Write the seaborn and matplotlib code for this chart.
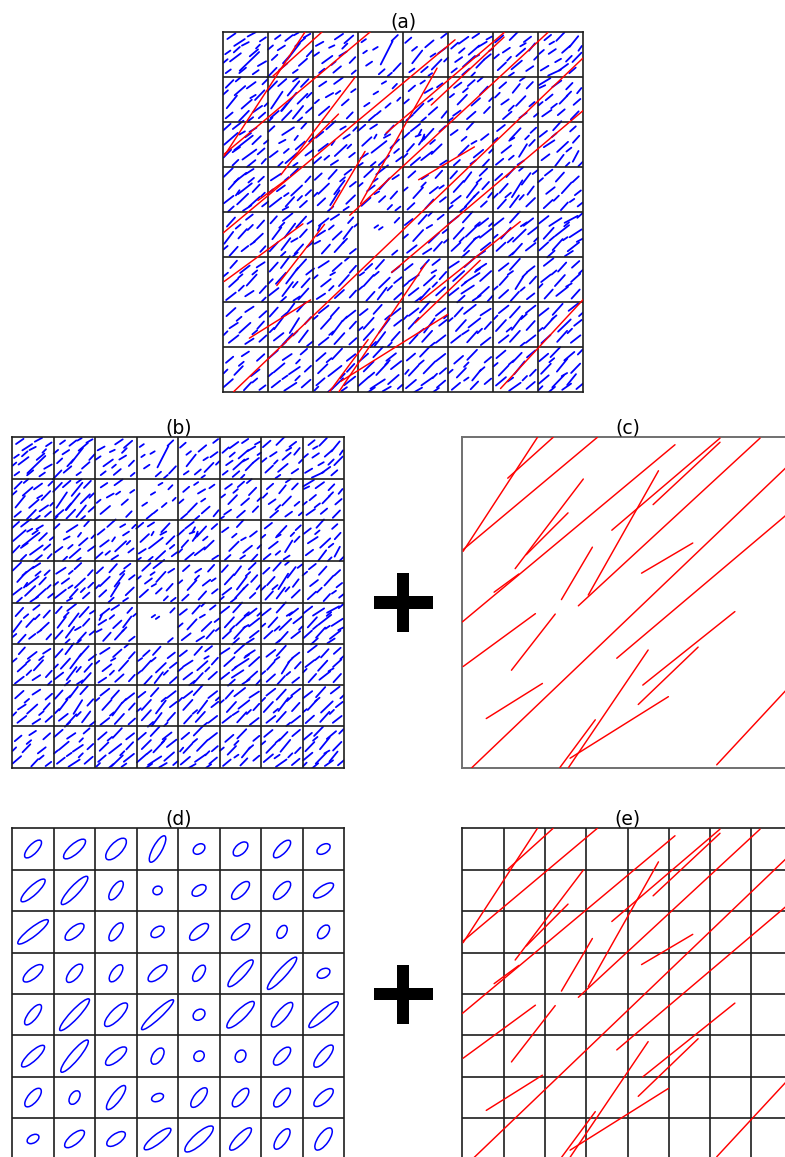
import matplotlib
matplotlib.use("Agg")
import matplotlib.pyplot as plt
from matplotlib.patches import Ellipse, Rectangle
import numpy as np
import pandas as pd
import seaborn as sns

sns.set_theme(style="white")
plt.rcParams["font.family"] = ["DejaVu Sans"]

N_CELLS = 8
TITLES = ["(a)", "(b)", "(c)", "(d)", "(e)"]

# ---- long (red) fractures, domain units 0..8, y up ----
red_x1 = [0.02, 1.10, 0.02, 1.28, 1.55, 0.00, 0.77, 3.62, 4.62, 3.05, 2.81, 4.34, 0.23,
          3.74, 2.40, 0.02, 1.19, 0.58, 2.36, 2.57, 2.61, 4.37, 4.26, 6.16]
red_y1 = [5.24, 7.01, 5.28, 4.82, 5.16, 3.53, 4.25, 5.75, 6.37, 4.18, 3.92, 4.71, 0.00,
          2.65, 4.07, 2.45, 2.36, 1.19, 0.00, 0.00, 0.23, 2.00, 1.53, 0.07]
red_x2 = [1.82, 2.20, 3.27, 2.93, 2.56, 5.15, 1.37, 6.24, 6.24, 4.75, 7.21, 5.58, 8.00,
          8.00, 3.15, 1.77, 2.25, 1.94, 3.22, 4.50, 4.99, 6.60, 5.71, 8.00]
red_y2 = [8.00, 8.00, 8.00, 6.99, 6.17, 7.82, 4.69, 7.98, 7.88, 7.19, 7.98, 5.44, 7.42,
          6.25, 5.34, 3.73, 3.72, 2.04, 1.16, 2.85, 1.72, 3.78, 2.92, 2.05]

# ---- short (blue) fractures per grid row (row 0 = top) ----
# (column, x in cell, y from cell top, length in cells, angle deg)
blue_row0 = [
    (0,.18,.10,.22,35),(0,.36,.24,.28,33),(0,.63,.06,.20,28),(0,.10,.46,.14,35),(0,.27,.57,.30,37),
    (0,.58,.66,.60,44),(0,.68,.47,.24,40),(0,.88,.17,.16,34),(0,.86,.71,.21,30),(0,.11,.88,.14,36),
    (0,.49,.27,.17,27),(0,.43,.86,.19,39),(0,.77,.33,.12,45),
    (0,.30,.40,.18,42),(0,.05,.65,.12,40),(0,.72,.90,.16,35),
    (1,.08,.91,.30,46),(1,.33,.78,.24,40),(1,.56,.44,.46,52),(1,.71,.23,.29,40),(1,.29,.36,.19,33),
    (1,.86,.09,.17,30),(1,.21,.12,.15,36),(1,.77,.68,.24,41),(1,.92,.48,.19,47),(1,.46,.14,.21,38),
    (1,.14,.57,.17,43),(1,.60,.88,.13,35),
    (1,.40,.62,.22,48),(1,.05,.35,.14,40),(1,.62,.05,.12,30),
    (2,.14,.27,.19,29),(2,.57,.11,.22,34),(2,.79,.17,.26,41),(2,.31,.62,.28,36),(2,.66,.49,.19,31),
    (2,.87,.63,.18,46),(2,.19,.87,.15,38),(2,.53,.84,.22,40),(2,.41,.33,.13,25),(2,.90,.90,.12,40),
    (2,.07,.50,.14,35),(2,.45,.70,.12,40),(2,.70,.32,.16,45),
    (3,.38,.37,.12,31),(3,.63,.47,.58,63),(3,.81,.14,.19,44),(3,.24,.71,.16,34),(3,.86,.79,.24,47),
    (3,.52,.89,.17,41),(3,.12,.20,.12,35),
    (3,.15,.45,.10,35),(3,.70,.95,.12,40),
    (4,.11,.19,.18,41),(4,.31,.56,.36,52),(4,.58,.27,.24,40),(4,.86,.42,.21,36),(4,.47,.84,.19,40),
    (4,.74,.73,.31,46),(4,.19,.86,.14,35),(4,.90,.09,.15,38),(4,.66,.52,.13,33),
    (4,.25,.38,.14,38),(4,.95,.62,.12,45),(4,.60,.95,.10,35),
    (5,.14,.31,.20,41),(5,.34,.19,.26,36),(5,.57,.41,.31,41),(5,.76,.28,.22,31),(5,.23,.62,.19,35),
    (5,.46,.66,.36,42),(5,.71,.71,.25,46),(5,.87,.56,.19,39),(5,.13,.86,.15,38),(5,.61,.09,.18,34),
    (5,.91,.14,.14,29),(5,.39,.89,.21,41),(5,.62,.55,.15,28),
    (5,.30,.42,.16,40),(5,.95,.40,.10,35),(5,.55,.95,.12,45),
    (6,.13,.16,.24,41),(6,.47,.08,.30,45),(6,.76,.17,.20,37),(6,.29,.41,.19,34),(6,.61,.46,.26,41),
    (6,.86,.34,.21,51),(6,.19,.77,.25,43),(6,.52,.74,.30,40),(6,.81,.82,.19,34),(6,.66,.29,.14,30),
    (6,.35,.60,.12,45),
    (6,.07,.55,.14,40),(6,.40,.95,.14,35),(6,.95,.58,.12,45),
    (7,.21,.13,.19,39),(7,.49,.11,.26,46),(7,.79,.22,.31,51),(7,.31,.44,.19,34),(7,.62,.39,.24,41),
    (7,.86,.57,.29,46),(7,.14,.81,.20,31),(7,.36,.91,.31,25),(7,.56,.79,.25,36),(7,.76,.86,.19,41),
    (7,.44,.64,.15,30),(7,.93,.37,.13,55),
    (7,.07,.45,.14,40),(7,.68,.60,.18,45),(7,.30,.25,.12,30),
]
blue_row1 = [
    (0,.14,.16,.24,45),(0,.37,.31,.31,41),(0,.62,.19,.24,36),(0,.81,.41,.30,46),(0,.19,.56,.36,51),
    (0,.52,.61,.30,41),(0,.76,.72,.25,35),(0,.13,.86,.20,40),(0,.46,.87,.31,46),(0,.86,.86,.19,41),
    (0,.66,.44,.14,31),(0,.33,.06,.14,40),(0,.92,.12,.14,45),
    (0,.05,.35,.14,42),(0,.60,.95,.16,38),(0,.95,.62,.10,45),
    (1,.09,.21,.30,46),(1,.31,.13,.24,41),(1,.56,.26,.41,51),(1,.81,.14,.24,46),(1,.19,.52,.45,56),
    (1,.46,.56,.52,51),(1,.76,.49,.31,45),(1,.14,.84,.24,41),(1,.41,.86,.30,46),(1,.66,.79,.36,51),
    (1,.91,.74,.19,41),(1,.61,.06,.15,36),(1,.91,.41,.15,45),
    (1,.35,.68,.20,50),(1,.70,.95,.14,40),(1,.05,.95,.12,45),
    (2,.21,.16,.19,34),(2,.56,.09,.24,36),(2,.36,.41,.19,30),(2,.71,.57,.20,41),(2,.24,.76,.30,40),
    (2,.81,.86,.19,46),(2,.89,.31,.12,35),
    (2,.08,.55,.12,40),(2,.55,.35,.12,35),
    (3,.39,.36,.12,31),(3,.19,.62,.14,34),(3,.66,.64,.15,41),(3,.31,.91,.19,40),(3,.81,.21,.14,46),
    (3,.57,.13,.11,30),
    (3,.45,.80,.12,40),(3,.90,.50,.10,45),
    (4,.19,.26,.19,41),(4,.56,.31,.20,31),(4,.81,.19,.15,36),(4,.34,.71,.31,46),(4,.66,.76,.25,41),
    (4,.14,.91,.19,40),(4,.91,.84,.19,51),(4,.43,.12,.12,35),
    (4,.07,.55,.14,40),(4,.60,.52,.12,35),(4,.45,.95,.14,40),
    (5,.21,.19,.20,36),(5,.51,.14,.20,41),(5,.79,.31,.25,46),(5,.31,.51,.30,46),(5,.61,.56,.25,41),
    (5,.19,.81,.20,35),(5,.51,.86,.25,41),(5,.86,.74,.19,46),(5,.71,.06,.15,40),(5,.08,.42,.12,38),
    (5,.38,.30,.14,40),(5,.95,.50,.12,45),(5,.05,.95,.12,35),
    (6,.21,.19,.20,41),(6,.51,.26,.25,51),(6,.81,.19,.20,46),(6,.26,.56,.20,35),(6,.61,.54,.30,46),
    (6,.86,.61,.15,40),(6,.31,.86,.25,41),(6,.66,.86,.20,36),(6,.09,.41,.15,45),
    (6,.40,.70,.16,45),(6,.95,.85,.12,40),(6,.65,.05,.14,35),
    (7,.14,.11,.30,31),(7,.41,.16,.25,36),(7,.69,.21,.20,46),(7,.91,.31,.15,51),(7,.24,.46,.20,40),
    (7,.56,.51,.25,46),(7,.86,.56,.20,41),(7,.19,.81,.25,35),(7,.51,.79,.20,40),(7,.81,.86,.25,46),
    (7,.09,.22,.14,25),
    (7,.35,.65,.16,38),(7,.68,.38,.14,45),(7,.05,.60,.12,40),
]
blue_row2 = [
    (0,.08,.12,.22,42),(0,.33,.07,.30,38),(0,.66,.18,.18,31),(0,.17,.38,.40,41),(0,.45,.47,.52,38),
    (0,.29,.62,.20,35),(0,.74,.41,.26,44),(0,.09,.71,.24,46),(0,.58,.73,.38,36),(0,.84,.66,.20,41),
    (0,.27,.91,.18,44),(0,.62,.93,.24,39),(0,.90,.88,.14,48),(0,.42,.25,.14,30),
    (0,.55,.30,.16,35),(0,.95,.45,.12,40),
    (1,.07,.16,.18,43),(1,.44,.21,.31,33),(1,.79,.09,.17,48),(1,.31,.44,.16,28),(1,.71,.53,.27,41),
    (1,.12,.72,.22,37),(1,.51,.81,.34,41),(1,.91,.69,.21,36),(1,.27,.94,.14,44),(1,.62,.36,.12,52),
    (1,.40,.65,.14,40),(1,.95,.40,.12,45),(1,.60,.95,.12,35),
    (2,.14,.29,.21,39),(2,.39,.08,.27,42),(2,.74,.33,.17,33),(2,.22,.57,.26,37),(2,.61,.64,.36,43),
    (2,.09,.86,.22,41),(2,.47,.91,.19,33),(2,.86,.74,.16,38),(2,.93,.16,.12,45),(2,.44,.47,.12,55),
    (2,.66,.14,.14,30),
    (2,.30,.80,.14,40),(2,.80,.55,.12,45),
    (3,.07,.14,.22,40),(3,.34,.11,.18,33),(3,.69,.19,.29,47),(3,.19,.44,.28,43),(3,.46,.56,.42,38),
    (3,.81,.49,.27,45),(3,.13,.76,.20,33),(3,.57,.86,.31,43),(3,.91,.83,.17,37),(3,.64,.32,.16,28),
    (3,.33,.94,.14,40),(3,.38,.33,.10,60),
    (3,.85,.65,.14,40),(3,.05,.95,.12,35),
    (4,.06,.31,.21,42),(4,.27,.13,.26,38),(4,.56,.28,.33,48),(4,.87,.16,.18,42),(4,.16,.58,.23,48),
    (4,.41,.42,.22,55),(4,.74,.61,.31,44),(4,.27,.88,.27,40),(4,.52,.76,.31,38),(4,.89,.91,.17,33),
    (4,.37,.24,.14,62),(4,.33,.31,.12,20),(4,.44,.36,.16,70),
    (4,.65,.45,.14,40),(4,.05,.75,.12,45),
    (5,.13,.24,.19,36),(5,.49,.09,.23,47),(5,.81,.34,.21,38),(5,.34,.64,.32,45),(5,.67,.71,.27,39),
    (5,.19,.91,.18,42),(5,.83,.92,.22,47),(5,.57,.46,.13,30),
    (5,.35,.38,.14,40),(5,.95,.65,.12,45),(5,.55,.90,.14,35),
    (6,.17,.14,.22,38),(6,.49,.27,.34,47),(6,.89,.19,.17,43),(6,.29,.61,.27,38),(6,.66,.64,.33,58),
    (6,.86,.47,.18,47),(6,.14,.89,.21,39),(6,.61,.91,.17,33),(6,.41,.39,.13,30),
    (6,.40,.80,.14,40),(6,.75,.35,.12,45),(6,.05,.40,.12,40),
    (7,.11,.27,.21,38),(7,.42,.09,.27,48),(7,.77,.16,.17,42),(7,.24,.49,.28,33),(7,.54,.56,.33,43),
    (7,.84,.39,.21,48),(7,.16,.79,.22,37),(7,.47,.86,.31,53),(7,.83,.77,.27,62),(7,.68,.62,.14,38),
    (7,.94,.94,.14,45),
    (7,.35,.30,.14,40),(7,.65,.95,.12,45),
]
blue_row3 = [
    (0,.11,.13,.28,44),(0,.38,.24,.34,38),(0,.58,.11,.22,33),(0,.84,.28,.17,43),(0,.23,.38,.33,48),
    (0,.48,.49,.39,38),(0,.73,.48,.23,47),(0,.12,.73,.27,38),(0,.43,.72,.34,44),(0,.69,.78,.32,42),
    (0,.17,.94,.17,43),(0,.53,.92,.22,33),(0,.93,.83,.17,38),(0,.32,.58,.14,55),
    (0,.62,.30,.16,40),(0,.88,.62,.12,45),
    (1,.17,.23,.27,33),(1,.58,.12,.22,43),(1,.88,.28,.17,48),(1,.28,.48,.22,36),(1,.63,.53,.33,43),
    (1,.89,.58,.17,44),(1,.16,.79,.33,38),(1,.48,.78,.28,48),(1,.78,.83,.21,42),(1,.38,.93,.14,28),
    (1,.41,.27,.12,40),
    (1,.05,.55,.14,40),(1,.70,.70,.14,45),(1,.40,.62,.12,35),
    (2,.11,.22,.21,43),(2,.43,.17,.27,48),(2,.77,.12,.19,38),(2,.23,.49,.33,44),(2,.58,.46,.38,53),
    (2,.88,.39,.17,38),(2,.18,.78,.23,43),(2,.48,.69,.39,58),(2,.83,.73,.27,44),(2,.38,.94,.17,42),
    (2,.73,.93,.14,33),
    (2,.65,.28,.14,40),(2,.05,.62,.12,45),
    (3,.23,.14,.27,43),(3,.53,.07,.33,38),(3,.83,.23,.17,33),(3,.28,.48,.21,37),(3,.58,.38,.33,48),
    (3,.17,.78,.27,42),(3,.53,.72,.19,43),(3,.79,.63,.22,48),(3,.88,.93,.14,38),(3,.41,.58,.12,30),
    (3,.05,.40,.12,40),(3,.70,.90,.14,45),(3,.38,.30,.12,35),
    (4,.19,.17,.21,42),(4,.48,.23,.17,33),(4,.79,.17,.22,48),(4,.33,.58,.32,48),(4,.68,.52,.23,38),
    (4,.17,.88,.21,43),(4,.58,.83,.27,48),(4,.88,.73,.17,38),
    (4,.05,.50,.12,40),(4,.45,.40,.14,45),(4,.85,.45,.12,35),
    (5,.12,.18,.22,48),(5,.43,.23,.27,53),(5,.78,.12,.23,44),(5,.23,.44,.33,48),(5,.53,.53,.39,53),
    (5,.83,.42,.22,48),(5,.17,.73,.27,38),(5,.48,.77,.33,48),(5,.79,.83,.18,43),(5,.33,.94,.17,38),
    (5,.68,.31,.14,42),(5,.93,.63,.14,50),
    (5,.62,.62,.16,45),(5,.05,.90,.12,40),
    (6,.12,.23,.21,43),(6,.38,.13,.27,48),(6,.73,.27,.32,53),(6,.23,.48,.27,48),(6,.53,.49,.44,58),
    (6,.83,.53,.23,53),(6,.19,.83,.27,48),(6,.47,.77,.33,53),(6,.83,.79,.27,44),(6,.93,.12,.14,38),
    (6,.63,.68,.14,48),(6,.33,.63,.16,40),
    (6,.62,.05,.12,40),(6,.05,.65,.14,45),
    (7,.23,.13,.21,38),(7,.48,.23,.27,48),(7,.83,.28,.19,43),(7,.27,.53,.24,38),(7,.63,.47,.32,48),
    (7,.88,.58,.17,38),(7,.22,.83,.27,43),(7,.58,.88,.23,48),(7,.93,.84,.14,38),
    (7,.05,.30,.14,40),(7,.40,.70,.16,45),(7,.75,.75,.12,35),
]
blue_row4 = [
    (0,.17,.23,.27,48),(0,.58,.12,.19,38),(0,.83,.28,.23,48),(0,.12,.58,.33,53),(0,.43,.49,.28,48),
    (0,.78,.58,.27,43),(0,.23,.88,.27,48),(0,.48,.82,.19,38),(0,.88,.83,.17,48),(0,.33,.33,.14,40),
    (0,.60,.35,.16,45),(0,.05,.80,.12,40),(0,.65,.70,.12,35),
    (1,.12,.18,.21,48),(1,.43,.12,.27,38),(1,.73,.23,.33,48),(1,.19,.48,.33,53),(1,.48,.42,.39,53),
    (1,.78,.48,.23,48),(1,.12,.78,.27,48),(1,.39,.72,.33,53),(1,.68,.83,.28,48),(1,.93,.73,.17,38),
    (1,.33,.94,.14,43),(1,.93,.23,.14,33),(1,.58,.63,.16,30),
    (1,.30,.30,.16,45),(1,.60,.95,.14,40),
    (2,.23,.23,.27,38),(2,.48,.12,.22,33),(2,.83,.19,.17,48),(2,.17,.48,.22,33),(2,.53,.53,.27,43),
    (2,.77,.47,.33,53),(2,.28,.83,.27,48),(2,.58,.78,.32,48),(2,.88,.88,.17,38),(2,.09,.68,.14,28),
    (2,.13,.36,.14,65),
    (2,.40,.35,.14,40),(2,.70,.65,.14,45),(2,.95,.30,.10,40),
    (3,.40,.33,.10,35),(3,.50,.37,.10,35),(3,.86,.19,.15,46),(3,.81,.91,.15,40),
    (4,.12,.23,.22,38),(4,.43,.17,.27,48),(4,.83,.12,.17,38),(4,.33,.53,.33,48),(4,.68,.58,.32,44),
    (4,.19,.83,.27,38),(4,.53,.88,.22,33),(4,.77,.77,.27,48),(4,.93,.43,.14,38),(4,.58,.33,.14,30),
    (4,.05,.55,.14,40),(4,.60,.05,.12,45),(4,.95,.65,.12,40),
    (5,.12,.18,.27,38),(5,.43,.12,.32,48),(5,.78,.23,.27,38),(5,.23,.48,.33,48),(5,.53,.42,.39,44),
    (5,.83,.48,.32,38),(5,.17,.78,.27,43),(5,.48,.73,.39,48),(5,.83,.77,.27,38),(5,.38,.94,.22,42),
    (5,.73,.93,.21,33),(5,.95,.28,.12,42),(5,.63,.58,.14,30),
    (5,.30,.62,.14,45),(5,.65,.28,.14,40),
    (6,.12,.23,.27,38),(6,.48,.12,.33,48),(6,.78,.23,.27,38),(6,.28,.48,.32,48),(6,.58,.53,.39,44),
    (6,.88,.42,.27,38),(6,.17,.78,.27,43),(6,.53,.83,.32,48),(6,.83,.78,.27,38),(6,.68,.28,.16,33),
    (6,.38,.63,.16,42),
    (6,.05,.55,.12,40),(6,.95,.62,.12,45),(6,.40,.95,.14,40),
    (7,.12,.18,.27,38),(7,.38,.23,.32,33),(7,.73,.17,.33,28),(7,.93,.08,.17,42),(7,.23,.48,.33,48),
    (7,.53,.42,.39,38),(7,.83,.48,.32,33),(7,.12,.77,.27,42),(7,.43,.73,.33,48),(7,.78,.78,.32,38),
    (7,.28,.94,.22,42),(7,.68,.93,.21,33),(7,.93,.63,.17,28),(7,.63,.28,.14,40),
    (7,.30,.60,.14,40),(7,.60,.60,.12,35),
]
blue_row5 = [
    (0,.23,.17,.22,48),(0,.48,.28,.27,38),(0,.83,.18,.21,33),(0,.23,.58,.27,42),(0,.63,.52,.33,48),
    (0,.17,.88,.27,38),(0,.58,.82,.22,33),(0,.88,.73,.21,48),(0,.38,.43,.12,40),
    (0,.05,.40,.14,40),(0,.40,.70,.16,45),(0,.70,.35,.14,40),(0,.90,.95,.12,45),
    (1,.12,.23,.27,48),(1,.38,.12,.33,53),(1,.73,.18,.33,48),(1,.93,.33,.22,38),(1,.28,.48,.33,48),
    (1,.53,.42,.44,53),(1,.83,.58,.27,48),(1,.12,.78,.27,38),(1,.43,.72,.39,53),(1,.78,.83,.33,48),
    (1,.33,.95,.17,42),(1,.63,.93,.17,33),
    (1,.05,.55,.14,45),(1,.60,.62,.16,50),
    (2,.23,.17,.27,33),(2,.53,.23,.27,42),(2,.88,.28,.21,48),(2,.28,.58,.27,38),(2,.68,.53,.33,48),
    (2,.17,.88,.22,33),(2,.58,.83,.27,42),(2,.88,.83,.21,48),(2,.43,.38,.12,30),
    (2,.05,.45,.12,40),(2,.40,.70,.14,45),(2,.75,.05,.12,40),
    (3,.23,.23,.21,42),(3,.48,.17,.27,48),(3,.83,.28,.22,38),(3,.23,.53,.33,48),(3,.58,.58,.33,44),
    (3,.88,.52,.21,38),(3,.27,.88,.27,48),(3,.53,.82,.33,53),(3,.88,.88,.22,42),(3,.08,.38,.12,35),
    (3,.40,.38,.14,40),(3,.70,.70,.14,45),(3,.05,.70,.12,40),
    (4,.12,.23,.22,38),(4,.48,.17,.27,48),(4,.73,.12,.21,38),(4,.23,.48,.27,33),(4,.58,.53,.33,42),
    (4,.88,.42,.22,48),(4,.23,.78,.27,38),(4,.48,.83,.33,48),(4,.83,.77,.27,42),(4,.33,.95,.17,38),
    (4,.68,.33,.12,30),
    (4,.05,.62,.14,40),(4,.70,.62,.14,45),
    (5,.12,.18,.27,33),(5,.48,.12,.33,42),(5,.73,.23,.27,33),(5,.23,.43,.33,42),(5,.53,.47,.39,33),
    (5,.83,.43,.33,42),(5,.12,.78,.27,38),(5,.43,.73,.33,33),(5,.78,.78,.33,42),(5,.93,.93,.17,48),
    (5,.28,.94,.22,42),(5,.63,.92,.21,33),
    (5,.35,.60,.14,40),(5,.65,.30,.14,35),
    (6,.23,.23,.27,38),(6,.48,.17,.33,48),(6,.83,.28,.22,38),(6,.23,.53,.27,48),(6,.58,.58,.33,58),
    (6,.88,.52,.21,48),(6,.23,.83,.27,42),(6,.48,.88,.27,48),(6,.83,.88,.21,38),(6,.38,.36,.14,35),
    (6,.05,.70,.12,40),(6,.70,.40,.14,45),(6,.65,.72,.12,40),
    (7,.23,.12,.27,38),(7,.53,.23,.27,48),(7,.83,.17,.22,42),(7,.17,.48,.27,38),(7,.48,.53,.33,48),
    (7,.83,.47,.27,42),(7,.23,.83,.27,48),(7,.53,.77,.33,38),(7,.83,.83,.27,48),(7,.95,.33,.12,42),
    (7,.68,.63,.14,30),
    (7,.35,.35,.14,40),(7,.05,.65,.12,45),
]
blue_row6 = [
    (0,.17,.23,.27,42),(0,.58,.17,.22,33),(0,.88,.28,.21,42),(0,.23,.53,.22,33),(0,.48,.58,.33,42),
    (0,.83,.52,.22,48),(0,.23,.83,.27,38),(0,.58,.88,.22,33),(0,.88,.82,.21,42),
    (0,.35,.38,.14,40),(0,.05,.70,.12,45),(0,.70,.68,.14,40),
    (1,.12,.23,.27,48),(1,.48,.17,.33,53),(1,.73,.12,.27,48),(1,.23,.48,.33,53),(1,.58,.53,.39,58),
    (1,.88,.42,.21,48),(1,.23,.78,.27,38),(1,.43,.83,.33,48),(1,.78,.77,.33,53),(1,.33,.95,.17,42),
    (1,.93,.93,.17,38),(1,.08,.63,.14,45),
    (1,.60,.70,.14,45),(1,.35,.30,.14,40),
    (2,.23,.17,.27,38),(2,.48,.23,.27,48),(2,.83,.28,.27,38),(2,.28,.48,.33,48),(2,.53,.58,.39,53),
    (2,.88,.52,.21,48),(2,.23,.88,.27,38),(2,.58,.82,.33,48),(2,.88,.88,.21,42),
    (2,.05,.35,.12,40),(2,.70,.38,.14,45),(2,.40,.70,.12,40),
    (3,.12,.23,.22,38),(3,.43,.17,.27,48),(3,.83,.23,.27,38),(3,.23,.48,.33,48),(3,.58,.53,.39,53),
    (3,.88,.47,.21,38),(3,.23,.73,.33,48),(3,.48,.83,.39,53),(3,.83,.77,.27,48),(3,.33,.95,.17,42),
    (3,.65,.35,.14,40),(3,.70,.95,.12,45),(3,.05,.60,.12,40),
    (4,.23,.23,.27,38),(4,.48,.12,.33,48),(4,.83,.23,.27,38),(4,.23,.48,.33,48),(4,.58,.53,.39,53),
    (4,.88,.47,.21,38),(4,.23,.83,.27,48),(4,.53,.77,.33,48),(4,.83,.83,.27,38),(4,.95,.33,.12,42),
    (4,.40,.65,.14,40),(4,.05,.35,.12,45),(4,.65,.95,.12,40),
    (5,.23,.23,.27,48),(5,.48,.17,.33,38),(5,.83,.23,.27,33),(5,.28,.53,.33,48),(5,.58,.47,.33,38),
    (5,.88,.53,.21,48),(5,.17,.83,.27,38),(5,.53,.78,.33,48),(5,.83,.88,.27,38),(5,.38,.68,.17,33),
    (5,.05,.40,.12,40),(5,.70,.65,.14,45),
    (6,.23,.17,.27,38),(6,.48,.23,.33,48),(6,.83,.17,.27,38),(6,.17,.53,.33,48),(6,.53,.47,.39,53),
    (6,.83,.53,.27,48),(6,.23,.83,.27,38),(6,.48,.77,.33,48),(6,.83,.83,.27,38),(6,.68,.33,.17,42),
    (6,.35,.62,.14,40),(6,.05,.35,.12,45),(6,.65,.95,.12,40),
    (7,.12,.23,.27,38),(7,.43,.17,.33,48),(7,.78,.12,.27,38),(7,.23,.48,.33,48),(7,.58,.53,.39,44),
    (7,.88,.47,.21,38),(7,.17,.83,.27,42),(7,.53,.77,.33,48),(7,.83,.83,.27,38),(7,.95,.28,.12,42),
    (7,.35,.35,.14,40),(7,.70,.65,.14,45),(7,.05,.62,.12,40),
]
blue_row7 = [
    (0,.14,.29,.21,40),(0,.49,.16,.19,33),(0,.83,.24,.22,42),(0,.34,.53,.27,46),(0,.71,.58,.24,38),
    (0,.11,.81,.27,41),(0,.54,.88,.24,47),(0,.87,.91,.17,37),
    (0,.40,.38,.14,40),(0,.05,.55,.12,45),(0,.70,.75,.14,40),
    (1,.11,.17,.27,41),(1,.42,.23,.24,34),(1,.79,.11,.19,41),(1,.24,.47,.31,40),(1,.58,.53,.29,34),
    (1,.88,.49,.19,43),(1,.17,.83,.24,38),(1,.49,.89,.32,33),(1,.84,.82,.26,41),(1,.37,.68,.14,35),
    (1,.66,.33,.12,45),
    (1,.05,.62,.12,40),(1,.65,.70,.14,45),
    (2,.17,.23,.27,41),(2,.53,.16,.32,47),(2,.84,.24,.24,38),(2,.21,.49,.29,44),(2,.48,.54,.37,38),
    (2,.83,.47,.24,47),(2,.16,.78,.24,41),(2,.53,.83,.37,44),(2,.81,.76,.31,38),(2,.38,.96,.15,40),
    (2,.69,.94,.14,35),(2,.07,.93,.12,45),
    (2,.35,.30,.14,40),(2,.65,.65,.14,45),
    (3,.12,.24,.26,41),(3,.44,.12,.31,47),(3,.73,.23,.27,38),(3,.23,.44,.31,45),(3,.53,.49,.38,47),
    (3,.84,.41,.29,38),(3,.12,.77,.31,41),(3,.43,.83,.38,33),(3,.78,.73,.31,41),(3,.29,.96,.19,35),
    (3,.63,.94,.21,30),(3,.93,.89,.14,41),
    (3,.30,.62,.14,40),(3,.65,.35,.14,45),
    (4,.17,.23,.24,40),(4,.48,.11,.31,46),(4,.83,.24,.26,38),(4,.23,.53,.31,47),(4,.58,.46,.37,46),
    (4,.88,.54,.19,41),(4,.17,.83,.29,40),(4,.53,.77,.31,35),(4,.84,.83,.24,40),(4,.33,.96,.20,30),
    (4,.73,.96,.15,35),(4,.08,.56,.12,50),
    (4,.40,.35,.14,40),(4,.70,.65,.14,45),
    (5,.23,.29,.26,41),(5,.53,.18,.31,46),(5,.88,.29,.19,40),(5,.29,.58,.29,46),(5,.63,.63,.31,51),
    (5,.17,.88,.24,40),(5,.58,.86,.24,46),(5,.88,.77,.19,40),
    (5,.05,.55,.12,40),(5,.40,.40,.14,45),(5,.75,.50,.14,40),(5,.40,.72,.12,35),
    (6,.17,.17,.26,40),(6,.53,.24,.29,46),(6,.84,.16,.24,40),(6,.23,.53,.31,46),(6,.58,.47,.37,51),
    (6,.88,.58,.19,46),(6,.17,.77,.29,40),(6,.48,.89,.31,35),(6,.83,.86,.24,40),(6,.38,.73,.15,35),
    (6,.40,.35,.14,40),(6,.70,.70,.14,45),(6,.05,.40,.12,40),
    (7,.12,.24,.26,40),(7,.38,.12,.31,46),(7,.69,.21,.29,40),(7,.93,.12,.15,46),(7,.17,.49,.31,46),
    (7,.53,.41,.37,51),(7,.83,.48,.29,46),(7,.12,.73,.29,40),(7,.44,.77,.37,46),(7,.74,.73,.31,51),
    (7,.29,.96,.21,40),(7,.63,.89,.24,35),(7,.92,.88,.19,40),(7,.58,.62,.14,30),
    (7,.30,.30,.14,40),(7,.05,.92,.12,45),
]
blue_rows = [blue_row0, blue_row1, blue_row2, blue_row3,
             blue_row4, blue_row5, blue_row6, blue_row7]

# ---- equivalent-tensor ellipses per cell (row 0 = top), cell units ----
ell_major = [
    [.55, .67, .66, .72, .31, .43, .55, .35],
    [.77, .91, .53, .23, .38, .56, .55, .56],
    [.92, .56, .51, .36, .56, .55, .34, .38],
    [.59, .54, .48, .56, .45, .86, 1.03, .33],
    [.60, 1.03, .75, 1.04, .31, .89, .75, .92],
    [.73, 1.00, .63, .44, .27, .31, .55, .67],
    [.55, .36, .71, .30, .57, .55, .56, .59],
    [.31, .59, .52, .80, .89, .72, .58, .63],
]
ell_minor = [
    [.22, .24, .29, .22, .22, .24, .22, .21],
    [.22, .22, .22, .20, .22, .24, .24, .22],
    [.21, .24, .22, .22, .24, .22, .21, .22],
    [.24, .24, .22, .24, .22, .22, .21, .21],
    [.22, .21, .26, .19, .24, .24, .24, .21],
    [.22, .22, .24, .24, .23, .24, .24, .24],
    [.24, .22, .22, .18, .24, .24, .24, .24],
    [.19, .24, .24, .22, .27, .22, .24, .26],
]
ell_angle = [
    [47, 41, 47, 61, 36, 43, 46, 32],
    [43, 47, 56, 30, 34, 45, 47, 34],
    [38, 40, 55, 36, 40, 41, 60, 52],
    [40, 50, 55, 40, 56, 47, 48, 28],
    [52, 47, 46, 43, 38, 44, 50, 41],
    [43, 50, 40, 57, 45, 60, 47, 50],
    [50, 58, 53, 22, 52, 50, 50, 42],
    [30, 40, 35, 38, 42, 46, 55, 55],
]

# ---------------- data frames ----------------
def blue_frame():
    recs, k = [], 0
    for r, row in enumerate(blue_rows):
        for (c, lx, ly, L, a) in row:
            cx, cy = c + lx, N_CELLS - r - ly
            dx = 0.5 * L * np.cos(np.radians(a))
            dy = 0.5 * L * np.sin(np.radians(a))
            recs.append((k, cx - dx, cy - dy))
            recs.append((k, cx + dx, cy + dy))
            k += 1
    return pd.DataFrame(recs, columns=["seg", "x", "y"])


def red_frame():
    recs = []
    for k, (x1, y1, x2, y2) in enumerate(zip(red_x1, red_y1, red_x2, red_y2)):
        recs.append((k, x1, y1))
        recs.append((k, x2, y2))
    return pd.DataFrame(recs, columns=["seg", "x", "y"])


df_blue = blue_frame()
df_red = red_frame()

# ---------------- figure ----------------
W, H = 785, 1157
fig = plt.figure(figsize=(W / 100, H / 100), dpi=100)
fig.patch.set_facecolor("white")


def add_ax(left, top, w, h):
    return fig.add_axes([left / W, 1 - (top + h) / H, w / W, h / H])


ax_a = add_ax(223.3, 31.7, 360.0, 360.0)
ax_b = add_ax(12.3, 437.3, 332.0, 330.4)
ax_c = add_ax(462.3, 437.3, 330.4, 330.4)
ax_d = add_ax(12.3, 828.3, 332.0, 331.4)
ax_e = add_ax(462.3, 828.3, 330.4, 331.4)

GRID_COLOR = "#1e1e1e"
BLUE = "#0000ff"
RED = "#ff0000"


def draw_blue(ax):
    sns.lineplot(data=df_blue, x="x", y="y", units="seg", estimator=None, sort=False,
                 color=BLUE, linewidth=1.3, ax=ax, legend=False, zorder=2)


def draw_red(ax):
    sns.lineplot(data=df_red, x="x", y="y", units="seg", estimator=None, sort=False,
                 color=RED, linewidth=1.05, ax=ax, legend=False, zorder=4)


def finish(ax, title, grid=True, spine_color=GRID_COLOR, spine_lw=1.2):
    ax.set_xlim(0, N_CELLS)
    ax.set_ylim(0, N_CELLS)
    ax.set_xticks([])
    ax.set_yticks([])
    ax.set_xlabel("")
    ax.set_ylabel("")
    ax.set_facecolor("white")
    for s in ax.spines.values():
        s.set_visible(True)
        s.set_color(spine_color)
        s.set_linewidth(spine_lw)
    if grid:
        for i in range(1, N_CELLS):
            ax.axvline(i, color=GRID_COLOR, lw=1.2, zorder=3)
            ax.axhline(i, color=GRID_COLOR, lw=1.2, zorder=3)
    ax.set_title(title, fontsize=13.5, pad=2.2, color="black")


# (a) full network
draw_blue(ax_a)
draw_red(ax_a)
finish(ax_a, TITLES[0])

# (b) short fractures only
draw_blue(ax_b)
finish(ax_b, TITLES[1])

# (c) long fractures only
draw_red(ax_c)
finish(ax_c, TITLES[2], grid=False, spine_color="#707070", spine_lw=1.4)

# (d) equivalent ellipses
for r in range(N_CELLS):
    for c in range(N_CELLS):
        e = Ellipse((c + 0.5, N_CELLS - r - 0.5), width=ell_major[r][c],
                    height=ell_minor[r][c], angle=ell_angle[r][c],
                    fill=False, edgecolor=BLUE, linewidth=1.1, zorder=2)
        ax_d.add_patch(e)
finish(ax_d, TITLES[3])

# (e) long fractures over the grid
draw_red(ax_e)
finish(ax_e, TITLES[4])

# bold plus signs
for cy in (602.5, 994.0):
    fig.add_artist(Rectangle((374.0 / W, 1 - (cy + 6.3) / H), 59.3 / W, 12.6 / H,
                             transform=fig.transFigure, color="black", lw=0))
    fig.add_artist(Rectangle((396.7 / W, 1 - (cy + 29.5) / H), 12.6 / W, 59.0 / H,
                             transform=fig.transFigure, color="black", lw=0))

fig.savefig("out.png", dpi=100, facecolor="white")
